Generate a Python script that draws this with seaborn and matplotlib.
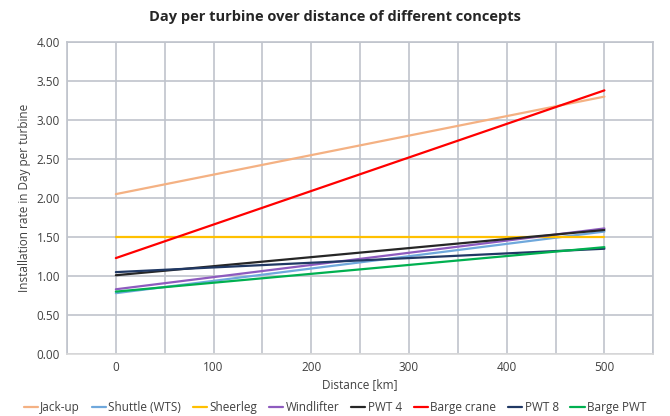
import numpy as np
import pandas as pd
import matplotlib
matplotlib.use('Agg')
import matplotlib.pyplot as plt
import seaborn as sns

distance = [0, 500]
concepts = ['Jack-up', 'Shuttle (WTS)', 'Sheerleg', 'Windlifter', 'PWT 4',
            'Barge crane', 'PWT 8', 'Barge PWT']
jack_up = [2.05, 3.30]
shuttle = [0.78, 1.57]
sheerleg = [1.50, 1.50]
windlifter = [0.83, 1.61]
pwt4 = [1.01, 1.59]
barge_crane = [1.23, 3.38]
pwt8 = [1.05, 1.35]
barge_pwt = [0.80, 1.37]

colors = ['#f4b183', '#6fa8dc', '#ffc000', '#8e5bbf', '#262626',
          '#ff0000', '#203864', '#00b050']

series = [jack_up, shuttle, sheerleg, windlifter, pwt4, barge_crane, pwt8, barge_pwt]
rows = []
for name, vals in zip(concepts, series):
    for d, v in zip(distance, vals):
        rows.append({'Distance': d, 'Rate': v, 'Concept': name})
df = pd.DataFrame(rows)

sns.set_style('white')
plt.rcParams['font.family'] = ['Open Sans', 'DejaVu Sans']

fig = plt.figure(figsize=(6.7, 4.16), dpi=100)
ax = fig.add_axes([0.1, 0.149, 0.875, 0.75])

sns.lineplot(data=df, x='Distance', y='Rate', hue='Concept', hue_order=concepts,
             palette=colors, linewidth=1.6, ax=ax, legend=True)

grid_col = '#c0c4cc'
ax.set_xlim(-50, 550)
ax.set_ylim(0, 4)
ax.set_xticks(np.arange(0, 501, 100))
ax.set_xticks(np.arange(-50, 551, 50), minor=True)
ax.set_yticks(np.arange(0, 4.01, 0.5))
ax.set_yticklabels(['%.2f' % t for t in np.arange(0, 4.01, 0.5)])
ax.grid(True, which='both', axis='x', color=grid_col, linewidth=1.2)
ax.grid(True, which='major', axis='y', color=grid_col, linewidth=1.2)
ax.set_axisbelow(True)
for s in ax.spines.values():
    s.set_color(grid_col)
    s.set_linewidth(1.2)
ax.spines['bottom'].set_color('#d9d9d9')
ax.tick_params(axis='both', which='both', labelsize=8.5, colors='#404040', length=0, pad=5)

ax.set_xlabel('Distance [km]', fontsize=8.5, color='#404040', labelpad=3)
ax.set_ylabel('Installation rate in Day per turbine', fontsize=8.5, color='#404040')
fig.suptitle('Day per turbine over distance of different concepts', x=0.5, y=0.975,
             fontsize=10.5, fontweight='bold', color='#262626')

handles, labels = ax.get_legend_handles_labels()
ax.legend_.remove()
fig.legend(handles, labels, loc='lower center', bbox_to_anchor=(0.5, -0.02), ncol=8,
           frameon=False, fontsize=8.5, handlelength=1.2, handletextpad=0.2,
           columnspacing=1.0, labelcolor='#404040')

fig.savefig('out.png', dpi=100)
